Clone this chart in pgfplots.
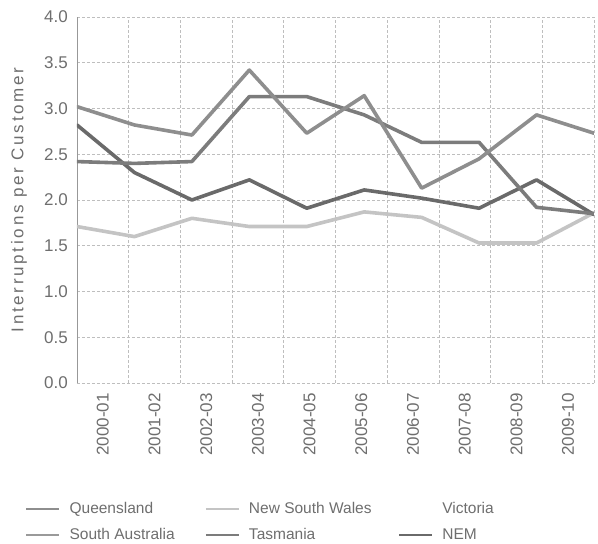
\documentclass[border=0pt]{standalone}
\usepackage{fontspec}
\setmainfont{Liberation Sans}
\usepackage{pgfplots}
\pgfplotsset{compat=1.18}
\definecolor{txt}{HTML}{6E6E6E}
\definecolor{qld}{HTML}{8E8E8E}
\definecolor{nsw}{HTML}{C4C4C4}
\definecolor{sa}{HTML}{9A9A9A}
\definecolor{tas}{HTML}{7C7C7C}
\definecolor{nem}{HTML}{6A6A6A}
\definecolor{gridc}{HTML}{BEBEBE}

\pgfplotsset{
  state/.style={line width=3.6bp, line join=round, line cap=round},
  legend image code/.code={
    \draw[#1, line width=2.4bp, line cap=butt] (0bp,0bp) -- (33bp,0bp);
    \path (43bp,0bp);
  },
}

\begin{document}
\begin{tikzpicture}
\path[use as bounding box] (-77bp,-161bp) rectangle (521bp,383bp);
\begin{axis}[
  at={(0,0)}, anchor=south west,
  width=517bp, height=366bp, scale only axis,
  xmin=0, xmax=9, ymin=0, ymax=4,
  axis line style={draw=none},
  major tick length=0pt,
  % category labels sit in the middle of ten grid columns
  xtick={0.45,1.35,2.25,3.15,4.05,4.95,5.85,6.75,7.65,8.55},
  xticklabels={2000-01,2001-02,2002-03,2003-04,2004-05,2005-06,2006-07,2007-08,2008-09,2009-10},
  extra x ticks={0.9,1.8,2.7,3.6,4.5,5.4,6.3,7.2,8.1,9},
  extra x tick labels={},
  extra x tick style={grid=major},
  ytick={0,0.5,...,4},
  ymajorgrids,
  major grid style={gridc, line width=0.6bp, dash pattern=on 3bp off 2bp},
  /pgf/number format/.cd, fixed, fixed zerofill, precision=1, assume math mode=true,
  /pgfplots/.cd,
  tick label style={font=\fontsize{17bp}{20bp}\selectfont, text=txt},
  yticklabel style={inner xsep=0pt, xshift=-9bp},
  xticklabel style={rotate=90, anchor=east, inner xsep=0pt, xshift=-10bp},
  ylabel={\addfontfeatures{LetterSpace=16}Interruptions per Customer},
  ylabel style={at={(axis description cs:-0.1122,0.5)}, anchor=center,
    font=\fontsize{17bp}{20bp}\selectfont, text=txt},
  legend columns=3,
  legend style={draw=none, fill=none, at={(-0.1006,-0.3251)}, anchor=north west,
    font=\fontsize{15.5bp}{18bp}\selectfont, text=txt,
    column sep=0pt, row sep=12bp, inner sep=0pt,
    nodes={inner sep=0pt, text height=11bp, text depth=3bp}},
  legend cell align=left,
]
\draw[gridc!80!black, line width=0.8bp] (rel axis cs:0,0) -- (rel axis cs:0,1);

% New South Wales
\addplot[state, nsw, forget plot] coordinates {
  (0,1.71) (1,1.60) (2,1.80) (3,1.71) (4,1.71) (5,1.87) (6,1.81) (7,1.53) (8,1.53) (9,1.86)};
% NEM
\addplot[state, nem, forget plot] coordinates {
  (0,2.82) (1,2.30) (2,2.00) (3,2.22) (4,1.91) (5,2.11) (6,2.02) (7,1.91) (8,2.22) (9,1.84)};
% Tasmania
\addplot[state, tas, forget plot] coordinates {
  (0,2.42) (1,2.40) (2,2.42) (3,3.13) (4,3.13) (5,2.93) (6,2.63) (7,2.63) (8,1.92) (9,1.85)};
% Queensland
\addplot[state, qld, forget plot] coordinates {
  (0,3.02) (1,2.82) (2,2.71) (3,3.42) (4,2.73) (5,3.14) (6,2.13) (7,2.45) (8,2.93) (9,2.73)};

\addlegendimage{qld}
\addlegendentry{\makebox[135bp][l]{Queensland}}
\addlegendimage{nsw}
\addlegendentry{\makebox[149bp][l]{New South Wales}}
\addlegendimage{white, draw opacity=0}
\addlegendentry{Victoria}
\addlegendimage{sa}
\addlegendentry{\makebox[135bp][l]{South Australia}}
\addlegendimage{tas}
\addlegendentry{\makebox[149bp][l]{Tasmania}}
\addlegendimage{nem}
\addlegendentry{NEM}
\end{axis}
\end{tikzpicture}
\end{document}
